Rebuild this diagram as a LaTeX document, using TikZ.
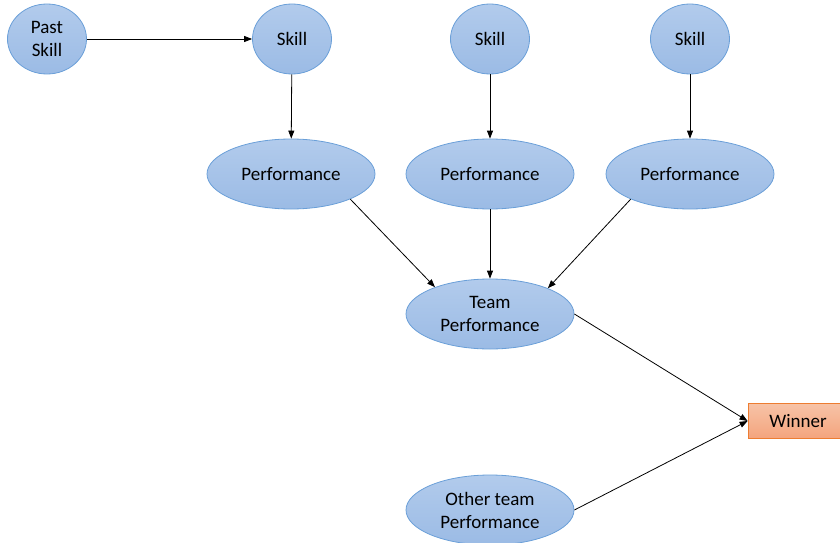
\documentclass[tikz,border=0pt]{standalone}
\usepackage{fontspec}
\setmainfont{Carlito}
\usetikzlibrary{shapes.geometric,arrows.meta}
\definecolor{varline}{HTML}{6A9FD8}
\definecolor{vartop}{HTML}{B2CBEC}
\definecolor{varbottom}{HTML}{9BBBE5}
\definecolor{winline}{HTML}{ED7D31}
\definecolor{wintop}{HTML}{F7C3A7}
\definecolor{winbottom}{HTML}{F4A47D}
\begin{document}
\begin{tikzpicture}[
            x=1pt, y=-1pt,
            every node/.style={font=\fontsize{19}{23}\selectfont, align=center, inner sep=0pt},
            skillvar/.style={ellipse, draw=varline, line width=0.8pt, top color=vartop, bottom color=varbottom, minimum width=79, minimum height=70},
            perfvar/.style={skillvar, minimum width=168},
            winbox/.style={rectangle, draw=winline, line width=0.8pt, top color=wintop, bottom color=winbottom, minimum width=100, minimum height=35},
            link/.style={-{Triangle[length=8pt,width=6pt]}, line width=0.8pt},
            ]
            \useasboundingbox (0,0) rectangle (840,543);
            \node[skillvar] (past) at (47,39) {Past\\Skill};
            \node[skillvar] (skill1) at (292,39) {Skill};
            \node[skillvar] (skill2) at (490,39) {Skill};
            \node[skillvar] (skill3) at (690,39) {Skill};
            \node[perfvar] (perf1) at (291,174) {Performance};
            \node[perfvar] (perf2) at (490,174) {Performance};
            \node[perfvar] (perf3) at (690,174) {Performance};
            \node[perfvar] (team) at (490,314) {Team\\Performance};
            \node[perfvar] (other) at (490,510) {Other team\\Performance};
            \node[winbox] (winner) at (798,421) {Winner};
            \draw[link] (past) -- (skill1);
            \draw[link] (skill1) -- (perf1);
            \draw[link] (skill2) -- (perf2);
            \draw[link] (skill3) -- (perf3);
            \draw[link] (perf1.-23) -- (team.154);
            \draw[link] (perf2) -- (team);
            \draw[link] (perf3.-157) -- (team.24);
            \draw[link] (team.east) -- (winner.west);
            \draw[link] (other.east) -- (winner.west);
\end{tikzpicture}
\end{document}
